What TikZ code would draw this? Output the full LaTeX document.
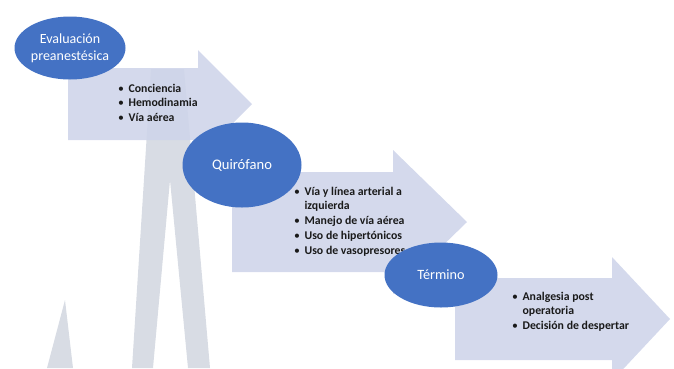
\documentclass[tikz,border=0pt]{standalone}
\usepackage{fontspec}
\setmainfont{Carlito}
\usetikzlibrary{shapes.geometric}
\definecolor{circblue}{HTML}{4472C4}
\definecolor{arrowfill}{HTML}{CFD5EA}
\definecolor{spikefill}{HTML}{D8DCE4}
\definecolor{bullettext}{HTML}{1A1A1A}
\tikzset{
  stepcirc/.style={ellipse, fill=circblue, draw=none, text=white, align=center, inner sep=0pt},
  steparrow/.style={fill=arrowfill, fill opacity=0.9, draw=none},
  spike/.style={fill=spikefill, draw=none},
  bulletlist/.style={anchor=west, inner sep=0pt, text=bullettext, font=\bfseries\fontsize{11.8}{14}\selectfont}
}
\newcommand{\blist}[1]{\begin{tabular}{@{}l@{\hspace{4.5pt}}l@{}}#1\end{tabular}}
\newcommand{\bul}{{\mdseries •}}
\begin{document}
\begin{tikzpicture}[x=1pt,y=-1pt]
\useasboundingbox (0,0) rectangle (674,368);
% background spikes
\fill[spike] (47,368) -- (65,300) -- (73,368) -- cycle;
\fill[spike] (132,368) -- (151,69) -- (184,69) -- (210,368) -- (188,368) -- (170,180) -- (153,368) -- cycle;
% arrows
\fill[steparrow] (68,68) -- (198,68) -- (198,50) -- (252,104) -- (198,158) -- (198,140) -- (68,140) -- cycle;
\fill[steparrow] (232,172) -- (393,172) -- (393,150) -- (467,222) -- (393,294) -- (393,272) -- (232,272) -- cycle;
\fill[steparrow] (455,278) -- (612,278) -- (612,257) -- (670,319) -- (612,381) -- (612,360) -- (455,360) -- cycle;
% lists
\node[bulletlist] (l1) at (118,104) {\blist{\bul & Conciencia\\[0.5pt] \bul & Hemodinamia\\[0.5pt] \bul & Vía aérea}};
\node[bulletlist] (l2) at (294,222) {\blist{\bul & Vía y línea arterial a\\ & izquierda\\[1pt] \bul & Manejo de vía aérea\\[1pt] \bul & Uso de hipertónicos\\[1pt] \bul & Uso de vasopresores}};
\node[bulletlist] (l3) at (512,312) {\blist{\bul & Analgesia post\\ & operatoria\\[1pt] \bul & Decisión de despertar}};
% circles
\node[stepcirc, minimum width=111pt, minimum height=63pt, font=\fontsize{14}{17}\selectfont] (c1) at (70,48) {Evaluación\\preanestésica};
\node[stepcirc, minimum width=119pt, minimum height=85pt, font=\fontsize{14.6}{18}\selectfont] (c2) at (242,165) {\raisebox{1pt}{Quirófano}};
\node[stepcirc, minimum width=113pt, minimum height=65pt, font=\fontsize{14.2}{18}\selectfont] (c3) at (441,275) {\raisebox{-3pt}{Término}};
\end{tikzpicture}
\end{document}
